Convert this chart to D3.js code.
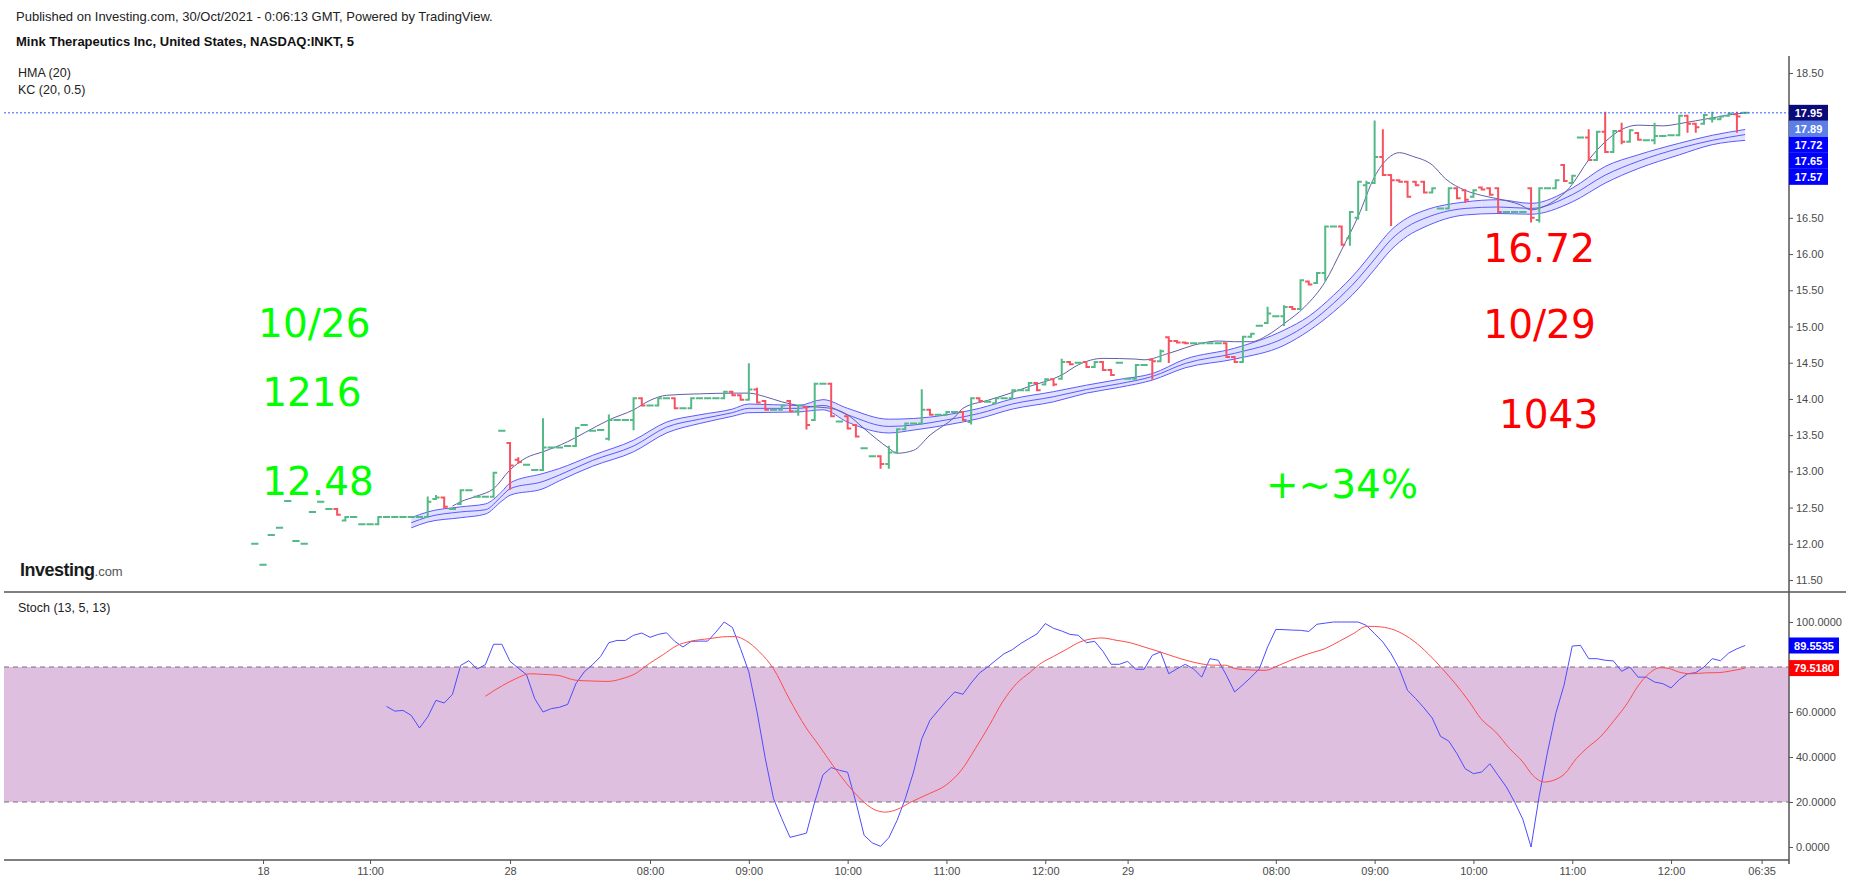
<!DOCTYPE html>
<html>
<head>
<meta charset="utf-8">
<script src="https://cdn.jsdelivr.net/npm/d3@7"></script>
<style>
  body { margin: 0; background: #fff; }
  svg { display: block; font-family: "Liberation Sans", Arial, sans-serif; }
</style>
</head>
<body>
<div id="chart"></div>
<script>
// *****************************************************************************
// data (5 min bars, one per index)
// *****************************************************************************

var opens = [
  12.00, 11.71, 12.12, 12.22, 12.59, 12.04, 12.00, 12.44, 12.58, 12.48,
  12.48, 12.32, 12.37, 12.27, 12.27, 12.27, 12.37, 12.37, 12.37, 12.37,
  12.37, 12.37, 12.62, 12.64, 12.48, 12.55, 12.74, 12.65, 12.65, 12.65,
  13.56, 13.39, 13.16, 13.09, 13.02, 13.02, 13.33, 13.33, 13.35, 13.35,
  13.64, 13.56, 13.57, 13.45, 13.71, 13.71, 13.71, 14.01, 13.91, 13.91,
  14.01, 14.01, 13.87, 13.87, 14.01, 14.01, 14.01, 14.01, 14.10, 14.05,
  13.99, 14.13, 13.97, 13.85, 13.85, 13.97, 13.83, 13.89, 13.71, 14.21,
  14.21, 13.69, 13.76, 13.64, 13.32, 13.21, 13.21, 13.10, 13.26, 13.58,
  13.66, 13.66, 13.85, 13.78, 13.78, 13.82, 13.82, 13.68, 14.01, 13.96,
  13.94, 14.01, 14.01, 14.12, 14.12, 14.22, 14.20, 14.27, 14.28, 14.51,
  14.50, 14.51, 14.44, 14.51, 14.40, 14.50, 14.28, 14.28, 14.47, 14.54,
  14.52, 14.85, 14.80, 14.78, 14.77, 14.77, 14.77, 14.77, 14.77, 14.58,
  14.51, 14.86, 15.01, 15.05, 15.14, 15.14, 15.27, 15.24, 15.62, 15.60,
  15.74, 16.38, 16.38, 16.22, 16.50, 16.95, 16.98, 17.34, 17.09, 17.02,
  17.00, 17.00, 17.00, 16.85, 16.63, 16.63, 16.91, 16.88, 16.79, 16.92,
  16.91, 16.91, 16.58, 16.58, 16.58, 16.91, 16.47, 16.91, 16.91, 17.23,
  16.98, 17.61, 17.61, 17.30, 17.69, 17.41, 17.70, 17.55, 17.67, 17.57,
  17.57, 17.63, 17.64, 17.64, 17.91, 17.80, 17.80, 17.87, 17.86, 17.91,
  17.93, 17.95
];
var highs = [
  12.00, 11.71, 12.12, 12.22, 12.59, 12.04, 12.00, 12.44, 12.58, 12.48,
  12.48, 12.37, 12.37, 12.27, 12.27, 12.37, 12.37, 12.37, 12.37, 12.37,
  12.37, 12.64, 12.66, 12.64, 12.48, 12.74, 12.74, 12.65, 12.65, 12.98,
  13.56, 13.39, 13.18, 13.09, 13.02, 13.72, 13.33, 13.33, 13.35, 13.60,
  13.64, 13.56, 13.57, 13.77, 13.71, 13.71, 14.01, 14.01, 13.91, 14.01,
  14.01, 14.01, 13.87, 14.01, 14.01, 14.01, 14.01, 14.10, 14.10, 14.05,
  14.48, 14.14, 13.97, 13.85, 13.91, 13.97, 13.91, 13.89, 14.21, 14.21,
  14.21, 13.69, 13.76, 13.64, 13.32, 13.21, 13.21, 13.34, 13.58, 13.66,
  13.66, 14.12, 13.85, 13.78, 13.82, 13.82, 13.82, 14.01, 14.01, 13.96,
  14.01, 14.01, 14.12, 14.12, 14.22, 14.22, 14.27, 14.27, 14.54, 14.51,
  14.50, 14.51, 14.51, 14.51, 14.40, 14.50, 14.28, 14.47, 14.47, 14.55,
  14.67, 14.85, 14.80, 14.78, 14.77, 14.77, 14.77, 14.77, 14.77, 14.58,
  14.86, 14.90, 15.01, 15.26, 15.14, 15.28, 15.27, 15.64, 15.62, 15.74,
  16.38, 16.38, 16.38, 16.58, 17.00, 17.00, 17.83, 17.71, 17.09, 17.02,
  17.00, 17.00, 17.00, 16.91, 16.63, 16.91, 16.91, 16.88, 16.88, 16.92,
  16.91, 16.91, 16.58, 16.58, 16.58, 16.91, 16.91, 16.91, 17.02, 17.23,
  17.08, 17.61, 17.71, 17.69, 17.95, 17.70, 17.80, 17.71, 17.67, 17.57,
  17.80, 17.63, 17.64, 17.91, 17.91, 17.80, 17.92, 17.95, 17.90, 17.94,
  17.95, 17.95
];
var lows = [
  12.00, 11.71, 12.12, 12.22, 12.59, 12.04, 12.00, 12.44, 12.58, 12.48,
  12.40, 12.32, 12.37, 12.27, 12.27, 12.27, 12.37, 12.37, 12.37, 12.37,
  12.37, 12.37, 12.62, 12.50, 12.48, 12.55, 12.74, 12.65, 12.65, 12.65,
  13.56, 12.76, 13.12, 13.09, 13.02, 13.02, 13.33, 13.33, 13.35, 13.35,
  13.64, 13.56, 13.57, 13.44, 13.71, 13.71, 13.58, 13.91, 13.91, 13.91,
  14.01, 13.87, 13.87, 13.87, 14.01, 14.01, 14.01, 14.01, 14.05, 13.99,
  13.99, 13.95, 13.85, 13.85, 13.85, 13.83, 13.78, 13.59, 13.71, 14.21,
  13.76, 13.69, 13.59, 13.48, 13.32, 13.21, 13.05, 13.05, 13.26, 13.58,
  13.66, 13.66, 13.78, 13.78, 13.78, 13.82, 13.71, 13.66, 13.97, 13.96,
  13.94, 14.01, 14.01, 14.12, 14.12, 14.12, 14.20, 14.19, 14.28, 14.48,
  14.50, 14.44, 14.44, 14.40, 14.33, 14.50, 14.28, 14.28, 14.47, 14.28,
  14.52, 14.51, 14.78, 14.77, 14.77, 14.77, 14.77, 14.77, 14.58, 14.51,
  14.51, 14.86, 15.01, 15.05, 15.14, 15.02, 15.24, 15.24, 15.58, 15.60,
  15.64, 16.38, 16.13, 16.13, 16.49, 16.61, 16.98, 17.09, 16.40, 17.00,
  16.79, 16.95, 16.85, 16.85, 16.63, 16.63, 16.77, 16.72, 16.79, 16.89,
  16.82, 16.58, 16.58, 16.58, 16.58, 16.45, 16.45, 16.91, 16.91, 17.01,
  16.98, 17.61, 17.30, 17.30, 17.41, 17.41, 17.53, 17.55, 17.58, 17.57,
  17.53, 17.63, 17.64, 17.64, 17.69, 17.69, 17.80, 17.83, 17.86, 17.91,
  17.69, 17.95
];
var closes = [
  12.00, 11.71, 12.12, 12.22, 12.59, 12.04, 12.00, 12.44, 12.58, 12.48,
  12.40, 12.37, 12.37, 12.27, 12.27, 12.37, 12.37, 12.37, 12.37, 12.37,
  12.37, 12.58, 12.64, 12.51, 12.48, 12.74, 12.74, 12.65, 12.65, 12.98,
  13.56, 13.08, 13.13, 13.09, 13.02, 13.33, 13.33, 13.33, 13.35, 13.60,
  13.64, 13.56, 13.57, 13.71, 13.71, 13.71, 14.01, 13.91, 13.91, 14.01,
  14.01, 13.87, 13.87, 14.01, 14.01, 14.01, 14.01, 14.10, 14.05, 13.99,
  14.13, 13.95, 13.85, 13.85, 13.91, 13.83, 13.91, 13.64, 14.21, 14.21,
  13.76, 13.69, 13.59, 13.48, 13.32, 13.21, 13.10, 13.26, 13.58, 13.66,
  13.66, 13.85, 13.78, 13.78, 13.82, 13.82, 13.71, 14.01, 13.97, 13.96,
  14.01, 14.01, 14.12, 14.12, 14.22, 14.12, 14.27, 14.20, 14.51, 14.48,
  14.50, 14.44, 14.51, 14.40, 14.33, 14.50, 14.28, 14.47, 14.47, 14.52,
  14.66, 14.80, 14.78, 14.77, 14.77, 14.77, 14.77, 14.77, 14.58, 14.51,
  14.86, 14.90, 15.01, 15.18, 15.14, 15.27, 15.24, 15.64, 15.58, 15.74,
  16.38, 16.38, 16.13, 16.58, 17.00, 16.98, 17.34, 17.09, 17.02, 17.00,
  16.79, 16.95, 16.85, 16.91, 16.63, 16.91, 16.77, 16.75, 16.88, 16.89,
  16.82, 16.58, 16.58, 16.58, 16.58, 16.50, 16.91, 16.91, 17.02, 17.01,
  17.08, 17.61, 17.30, 17.69, 17.41, 17.70, 17.55, 17.71, 17.58, 17.57,
  17.63, 17.63, 17.64, 17.91, 17.80, 17.75, 17.92, 17.87, 17.90, 17.94,
  17.90, 17.95
];

// HMA (20), sampled at bar indexes
var hmaIdx = [24, 25, 27, 29, 31, 33, 35, 38, 40, 43, 46, 48, 50, 54, 58, 60, 62, 64, 66, 68,
  70, 72, 74, 77, 78, 80, 82, 85, 86, 89, 91, 94, 98, 100, 103, 107, 108, 111, 115, 117,
  119, 121, 123, 125, 127.5, 130, 132, 134, 136, 137.6, 139, 140.6, 143, 144.6, 147, 149, 151.5, 153.7, 155, 157,
  159.7, 162, 164, 166, 168, 171, 173, 175, 177, 179, 181];
var hmaVal = [12.52, 12.58, 12.66, 12.76, 13.02, 13.19, 13.27, 13.41, 13.53, 13.71, 13.85, 13.98, 14.05, 14.07, 14.08, 14.08, 14.03, 13.96, 13.91, 13.89,
  13.87, 13.78, 13.59, 13.32, 13.25, 13.29, 13.50, 13.75, 13.87, 13.98, 14.05, 14.17, 14.33, 14.47, 14.56, 14.55, 14.54, 14.63, 14.77, 14.80,
  14.79, 14.79, 14.88, 15.04, 15.27, 15.62, 16.06, 16.52, 17.07, 17.32, 17.40, 17.35, 17.23, 17.04, 16.88, 16.81, 16.75, 16.68, 16.61, 16.68,
  16.92, 17.30, 17.55, 17.72, 17.78, 17.77, 17.80, 17.84, 17.88, 17.92, 17.95];

// KC (20, 0.5)
var kcIdx = [19, 21, 25, 28, 30, 31, 35, 37, 41, 46, 50, 54, 58, 60, 66, 69, 72, 77, 80, 84,
  88, 92, 97, 101, 105, 109, 113, 119, 125, 128, 131, 134, 136, 138, 140, 142, 147, 151, 155, 160,
  164, 168, 173, 177, 181];
var kcUpper = [12.36, 12.44, 12.51, 12.55, 12.72, 12.84, 12.97, 13.04, 13.22, 13.43, 13.68, 13.78, 13.86, 13.93, 13.91, 13.99, 13.87, 13.72, 13.73, 13.78,
  13.87, 14.00, 14.10, 14.19, 14.27, 14.35, 14.55, 14.70, 14.95, 15.14, 15.43, 15.78, 16.06, 16.33, 16.50, 16.60, 16.72, 16.75, 16.70, 16.91,
  17.21, 17.37, 17.53, 17.64, 17.72];
var kcMid = [12.29, 12.37, 12.44, 12.47, 12.66, 12.76, 12.86, 12.95, 13.15, 13.35, 13.61, 13.72, 13.81, 13.87, 13.87, 13.91, 13.78, 13.62, 13.64, 13.71,
  13.80, 13.93, 14.03, 14.13, 14.21, 14.31, 14.49, 14.63, 14.84, 15.04, 15.32, 15.66, 15.93, 16.20, 16.38, 16.49, 16.63, 16.65, 16.63, 16.82,
  17.09, 17.28, 17.46, 17.57, 17.65];
var kcLower = [12.22, 12.30, 12.36, 12.41, 12.59, 12.67, 12.76, 12.87, 13.07, 13.27, 13.53, 13.66, 13.76, 13.81, 13.82, 13.85, 13.68, 13.53, 13.57, 13.64,
  13.73, 13.86, 13.96, 14.08, 14.16, 14.26, 14.43, 14.55, 14.74, 14.94, 15.20, 15.52, 15.79, 16.06, 16.25, 16.37, 16.54, 16.56, 16.55, 16.72,
  16.98, 17.18, 17.37, 17.51, 17.57];

// Stoch (13, 5, 13): %K one value per bar from bar 16, %D sampled
var stochKStart = 16;
var stochK = [
  62.5, 60.4, 60.7, 58.5, 52.9, 57.8, 65.2, 64.0, 67.8, 80.7,
  82.8, 79.1, 81.0, 90.1, 90.1, 82.5, 79.5, 76.6, 65.9, 60.0,
  61.5, 62.1, 63.4, 72.6, 77.8, 81.0, 84.7, 90.8, 91.8, 91.8,
  94.1, 95.1, 93.2, 94.5, 95.2, 91.4, 88.9, 91.4, 91.5, 91.5,
  95.5, 100, 97.6, 88.1, 77.8, 60.0, 39.3, 21.5, 12.6, 4.3,
  5.2, 6.2, 20.0, 32.1, 35.3, 34.1, 33.2, 20.0, 5.2, 1.8,
  0.3, 4.1, 11.8, 21.5, 33.3, 48.1, 56.3, 60.7, 65.0, 68.9,
  67.9, 72.9, 77.3, 80.0, 83.0, 85.9, 87.7, 90.4, 92.6, 94.7,
  99.3, 97.2, 96.0, 94.5, 94.1, 90.8, 91.4, 87.0, 81.2, 81.2,
  82.5, 79.0, 79.0, 85.2, 86.7, 77.0, 79.2, 81.2, 79.2, 75.5,
  83.7, 83.0, 76.3, 68.9, 72.1, 75.5, 79.2, 88.9, 96.7, 96.6,
  96.4, 96.3, 95.8, 99.0, 99.5, 100, 100, 100, 100, 98.5,
  94.8, 91.1, 85.9, 79.2, 69.6, 65.9, 61.8, 57.3, 49.2, 47.1,
  41.5, 34.8, 32.6, 33.3, 37.0, 31.8, 26.7, 20.0, 12.3, 0,
  23.0, 42.2, 59.3, 71.9, 89.3, 89.6, 83.7, 83.7, 83.0, 82.7,
  78.1, 80.0, 75.5, 75.5, 73.3, 72.6, 70.7, 74.4, 77.0, 77.5,
  80.0, 83.7, 82.8, 86.2, 88.1, 89.5535
];
var stochDIdx = [28, 30.1, 31.7, 33.4, 35.1, 36.8, 39, 40.7, 42.9, 44.6, 46.2, 47.9, 49.6, 51.3, 52.9, 55.2, 57.4, 58.4, 59.6, 61.3,
  63, 64.9, 66.9, 68.5, 70.2, 71.9, 73.6, 75.2, 76.6, 78, 79.7, 81.9, 83.9, 85.8, 87.5, 89.2, 90.8, 92.5, 94.2, 95.3,
  97, 98.7, 100.2, 101.2, 102.9, 104.6, 106.3, 108, 109.7, 111.4, 113.1, 114.8, 116.4, 117.9, 119, 120.4, 122.7, 124.4, 126.1, 128,
  130, 131.7, 133.4, 135.1, 136.8, 138.5, 140.8, 142.5, 144.2, 145.8, 147.5, 148.9, 150.7, 152.4, 154, 155.2, 156.6, 157.7, 159.1, 160.5,
  161.7, 163.4, 165.1, 166.8, 167.9, 169.3, 170.7, 171.8, 172.9, 174.5, 176.2, 177.8, 179.2, 181];
var stochD = [67.0, 71.8, 74.8, 77.0, 76.7, 76.3, 74.1, 73.8, 73.6, 74.8, 77.0, 81.5, 85.5, 89.6, 91.4, 92.6, 93.5, 93.5, 91.8, 86.7,
  79.2, 65.9, 53.3, 45.2, 36.3, 28.1, 21.2, 16.7, 15.5, 16.7, 20.0, 23.7, 27.4, 34.1, 43.7, 54.0, 64.4, 72.6, 77.8, 81.2,
  84.7, 88.1, 91.1, 92.2, 92.9, 91.9, 90.8, 88.9, 87.0, 84.9, 83.0, 81.5, 80.8, 80.8, 79.3, 78.8, 78.5, 80.8, 83.4, 85.9,
  88.2, 91.4, 94.8, 98.1, 97.8, 96.3, 91.4, 85.9, 79.3, 72.6, 64.5, 57.1, 51.1, 43.7, 37.8, 31.9, 28.9, 29.6, 32.6, 39.3,
  43.7, 48.9, 56.3, 64.5, 71.1, 77.0, 79.7, 79.3, 77.8, 77.0, 77.4, 77.5, 78.2, 79.518];

// axes
var priceTicks = [11.5, 12, 12.5, 13, 13.5, 14, 14.5, 15, 15.5, 16, 16.5, 18.5];
var stochTicks = [0, 20, 40, 60, 100];
var timeTickIdx = [1, 14, 31, 48, 60, 72, 84, 96, 106, 124, 136, 148, 160, 172, 183];
var timeTickLabels = ["18", "11:00", "28", "08:00", "09:00", "10:00", "11:00", "12:00", "29",
  "08:00", "09:00", "10:00", "11:00", "12:00", "06:35"];

// last values on the price scale
var priceTags = [17.95, 17.89, 17.72, 17.65, 17.57];
var priceTagColors = ["#0a0a78", "#5b7fe6", "#0000ff", "#0000ff", "#0000ff"];
var stochTags = [89.5535, 79.518];
var stochTagColors = ["#0000ff", "#ff0000"];

// hand written notes on the chart (bar index, price)
var notes = [
  { text: "10/26", idx: 0.4, price: 14.85, color: "#00ff00" },
  { text: "1216", idx: 0.9, price: 13.90, color: "#00ff00" },
  { text: "12.48", idx: 0.9, price: 12.67, color: "#00ff00" },
  { text: "+~34%", idx: 122.8, price: 12.63, color: "#00ff00" },
  { text: "16.72", idx: 149.2, price: 15.89, color: "#ff0000" },
  { text: "10/29", idx: 149.2, price: 14.84, color: "#ff0000" },
  { text: "1043", idx: 151.1, price: 13.60, color: "#ff0000" }
];

// *****************************************************************************
// layout
// *****************************************************************************

var W = 1853, H = 884;
var axisX = 1789;
var upColor = "#53b987", downColor = "#f7525f";

var svg = d3.select("#chart").append("svg")
  .attr("width", W).attr("height", H);

svg.append("rect").attr("width", W).attr("height", H).attr("fill", "#fff");

var x = d3.scaleLinear().domain([0, 124]).range([254.8, 254.8 + 124 * 8.234]);
var y = d3.scaleLinear().domain([11.5, 18.5]).range([580, 73]);
var ys = d3.scaleLinear().domain([0, 100]).range([847, 622]);

// *****************************************************************************
// headers
// *****************************************************************************

svg.append("text").attr("x", 16).attr("y", 21)
  .style("font-size", "13px").attr("fill", "#222")
  .text("Published on Investing.com, 30/Oct/2021 - 0:06:13 GMT, Powered by TradingView.");
svg.append("text").attr("x", 16).attr("y", 46)
  .style("font-size", "13px").style("font-weight", "bold").attr("fill", "#111")
  .text("Mink Therapeutics Inc, United States, NASDAQ:INKT, 5");
svg.append("text").attr("x", 18).attr("y", 77)
  .style("font-size", "12.5px").attr("fill", "#222").text("HMA (20)");
svg.append("text").attr("x", 18).attr("y", 94)
  .style("font-size", "12.5px").attr("fill", "#222").text("KC (20, 0.5)");
svg.append("text").attr("x", 18).attr("y", 612)
  .style("font-size", "12.5px").attr("fill", "#222").text("Stoch (13, 5, 13)");

// investing.com mark
var logo = svg.append("text").attr("x", 20).attr("y", 576);
logo.append("tspan").text("Investing")
  .style("font-size", "18px").style("font-weight", "bold").attr("fill", "#1b1b1b")
  .style("letter-spacing", "-0.5px");
logo.append("tspan").text(".com")
  .style("font-size", "13px").attr("fill", "#555");

// *****************************************************************************
// stoch panel
// *****************************************************************************

svg.append("rect")
  .attr("x", 4).attr("width", axisX - 4)
  .attr("y", ys(80)).attr("height", ys(20) - ys(80))
  .attr("fill", "#dfbfdf");

[20, 80].forEach(function (v) {
  svg.append("line")
    .attr("x1", 4).attr("x2", axisX)
    .attr("y1", ys(v)).attr("y2", ys(v))
    .attr("stroke", "#7d6f7d").attr("stroke-width", 1.2)
    .attr("stroke-dasharray", "5,4");
});

var kLine = d3.line()
  .x(function (d, i) { return x(stochKStart + i); })
  .y(function (d) { return ys(d); });
svg.append("path").datum(stochK)
  .attr("fill", "none").attr("stroke", "#4d4dff").attr("stroke-width", 1)
  .attr("d", kLine);

var dLine = d3.line()
  .x(function (d, i) { return x(stochDIdx[i]); })
  .y(function (d) { return ys(d); })
  .curve(d3.curveMonotoneX);
svg.append("path").datum(stochD)
  .attr("fill", "none").attr("stroke", "#ff4b4b").attr("stroke-width", 1)
  .attr("d", dLine);

// *****************************************************************************
// price panel: KC band, HMA, bars
// *****************************************************************************

var kcArea = d3.area()
  .x(function (d, i) { return x(kcIdx[i]); })
  .y0(function (d, i) { return y(kcLower[i]); })
  .y1(function (d, i) { return y(kcUpper[i]); })
  .curve(d3.curveMonotoneX);
svg.append("path").datum(kcIdx)
  .attr("fill", "rgba(80,80,255,0.17)").attr("d", kcArea);

[kcUpper, kcMid, kcLower].forEach(function (arr) {
  svg.append("path").datum(arr)
    .attr("fill", "none").attr("stroke", "#5a5aff").attr("stroke-width", 1)
    .attr("d", d3.line()
      .x(function (d, i) { return x(kcIdx[i]); })
      .y(function (d) { return y(d); })
      .curve(d3.curveMonotoneX));
});

svg.append("path").datum(hmaVal)
  .attr("fill", "none").attr("stroke", "#5f5fa3").attr("stroke-width", 1)
  .attr("d", d3.line()
    .x(function (d, i) { return x(hmaIdx[i]); })
    .y(function (d) { return y(d); })
    .curve(d3.curveMonotoneX));

// bars: high-low stem, open tick left, close tick right
var tick = 3.6;
svg.append("g").selectAll("path")
  .data(closes)
  .enter()
  .append("path")
  .attr("fill", "none")
  .attr("stroke-width", 2)
  .attr("stroke", function (d, i) { return d < opens[i] ? downColor : upColor; })
  .attr("d", function (d, i) {
    var cx = x(i);
    var p = "M" + (cx - tick) + "," + y(opens[i]) + "H" + cx;
    p += "M" + cx + "," + (y(highs[i]) - 1) + "V" + (y(lows[i]) + 1);
    p += "M" + cx + "," + y(d) + "H" + (cx + tick);
    return p;
  });

// last price line
svg.append("line")
  .attr("x1", 4).attr("x2", axisX)
  .attr("y1", y(closes[closes.length - 1])).attr("y2", y(closes[closes.length - 1]))
  .attr("stroke", "#2f5cff").attr("stroke-width", 1)
  .attr("stroke-dasharray", "2,2");

// notes
svg.append("g").selectAll("text")
  .data(notes)
  .enter()
  .append("text")
  .attr("x", function (d) { return x(d.idx); })
  .attr("y", function (d) { return y(d.price); })
  .attr("fill", function (d) { return d.color; })
  .style("font-family", "'DejaVu Sans', Verdana, sans-serif")
  .style("font-size", "39px")
  .text(function (d) { return d.text; });

// *****************************************************************************
// axes
// *****************************************************************************

function styleAxis(g) {
  g.select(".domain").remove();
  g.selectAll(".tick line").attr("stroke", "#555");
  g.selectAll(".tick text")
    .attr("fill", "#4a4a4a")
    .style("font-size", "11px")
    .style("font-family", "'Liberation Sans', Arial, sans-serif");
}

svg.append("g")
  .attr("transform", "translate(" + axisX + ",0)")
  .call(d3.axisRight(y).tickValues(priceTicks).tickSize(4)
    .tickFormat(d3.format(".2f")))
  .call(styleAxis);

svg.append("g")
  .attr("transform", "translate(" + axisX + ",0)")
  .call(d3.axisRight(ys).tickValues(stochTicks).tickSize(4)
    .tickFormat(d3.format(".4f")))
  .call(styleAxis);

svg.append("g")
  .attr("transform", "translate(0,860)")
  .call(d3.axisBottom(x).tickValues(timeTickIdx).tickSize(4)
    .tickFormat(function (d, i) { return timeTickLabels[i]; }))
  .call(styleAxis);

// frame lines
svg.append("line").attr("x1", axisX).attr("x2", axisX).attr("y1", 56).attr("y2", 864)
  .attr("stroke", "#555").attr("stroke-width", 1.5);
svg.append("line").attr("x1", 4).attr("x2", 1846).attr("y1", 592).attr("y2", 592)
  .attr("stroke", "#555").attr("stroke-width", 1.5);
svg.append("line").attr("x1", 4).attr("x2", axisX).attr("y1", 860).attr("y2", 860)
  .attr("stroke", "#555").attr("stroke-width", 1.5);

// value tags on the right scale
var tagTop = y(priceTags[0]) - 8;
priceTags.forEach(function (v, i) {
  var g = svg.append("g").attr("transform", "translate(" + axisX + "," + (tagTop + i * 16) + ")");
  g.append("rect").attr("width", 39).attr("height", 16).attr("fill", priceTagColors[i]);
  g.append("text").attr("x", 19.5).attr("y", 12)
    .attr("text-anchor", "middle").attr("fill", "#fff")
    .style("font-size", "11px").style("font-weight", "bold")
    .text(d3.format(".2f")(v));
});

stochTags.forEach(function (v, i) {
  var g = svg.append("g").attr("transform", "translate(" + axisX + "," + (ys(v) - 8) + ")");
  g.append("rect").attr("width", 50).attr("height", 16).attr("fill", stochTagColors[i]);
  g.append("text").attr("x", 25).attr("y", 12)
    .attr("text-anchor", "middle").attr("fill", "#fff")
    .style("font-size", "11px").style("font-weight", "bold")
    .text(d3.format(".4f")(v));
});
</script>
</body>
</html>
